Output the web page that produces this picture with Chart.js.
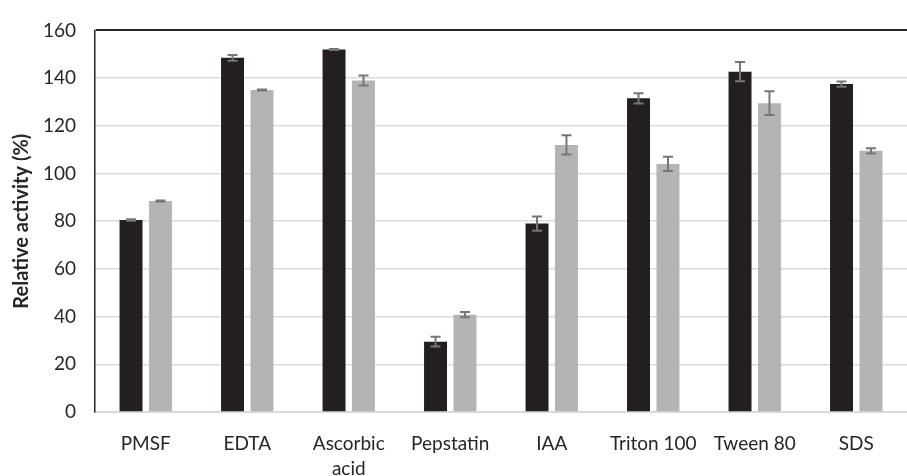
<!DOCTYPE html>
<html>
<head>
<meta charset="utf-8">
<script src="https://cdn.jsdelivr.net/npm/chart.js@4.4.1/dist/chart.umd.min.js"></script>
<style>
  html, body { margin: 0; padding: 0; background: #fff; }
</style>
</head>
<body>
<canvas id="barChart" width="907" height="476"></canvas>
<script>
// data
const categories = ['PMSF', 'EDTA', ['Ascorbic', 'acid'], 'Pepstatin', 'IAA', 'Triton 100', 'Tween 80', 'SDS'];
const blackValues = [80.5, 148.5, 152, 29.5, 79, 131.5, 142.7, 137.5];
const blackErrors = [0.3, 1.2, 0.2, 2, 3, 2.2, 4, 1.1];
const grayValues = [88.5, 135, 139, 40.8, 112, 104, 129.5, 109.5];
const grayErrors = [0.2, 0.2, 2.1, 1.1, 4, 3, 5, 1.1];
const yTicks = [0, 20, 40, 60, 80, 100, 120, 140, 160];

const errorBars = {
    id: 'errorBars',
    afterDatasetsDraw(chart) {
        const ctx = chart.ctx;
        const yScale = chart.scales.y;
        ctx.save();
        ctx.strokeStyle = '#767676';
        ctx.lineWidth = 2;
        chart.data.datasets.forEach((ds, i) => {
            const meta = chart.getDatasetMeta(i);
            meta.data.forEach((bar, j) => {
                const v = ds.data[j];
                const e = ds.errors[j];
                const top = yScale.getPixelForValue(v + e);
                const bot = yScale.getPixelForValue(v - e);
                ctx.beginPath();
                ctx.moveTo(bar.x, top);
                ctx.lineTo(bar.x, bot);
                ctx.moveTo(bar.x - 5, top);
                ctx.lineTo(bar.x + 5, top);
                ctx.moveTo(bar.x - 5, bot);
                ctx.lineTo(bar.x + 5, bot);
                ctx.stroke();
            });
        });
        ctx.restore();
    }
};

const ctx = document.getElementById('barChart').getContext('2d');
const chart = new Chart(ctx, {
    type: 'bar',
    data: {
        labels: categories,
        datasets: [
            {
                label: 'Series 1',
                data: blackValues,
                errors: blackErrors,
                backgroundColor: '#231f20',
                borderWidth: 0
            },
            {
                label: 'Series 2',
                data: grayValues,
                errors: grayErrors,
                backgroundColor: '#b3b4b6',
                borderWidth: 0
            }
        ]
    },
    options: {
        responsive: false,
        animation: false,
        barPercentage: 0.78,
        categoryPercentage: 0.58,
        layout: {
            padding: { top: 19, right: 0, bottom: 0, left: 0 }
        },
        scales: {
            x: {
                grid: { display: false },
                border: { color: '#d9d9d9', width: 2 },
                ticks: {
                    color: '#262626',
                    font: { family: 'Lato', size: 19, lineHeight: 1.3 },
                    maxRotation: 0,
                    autoSkip: false,
                    padding: 12
                },
                afterFit: function (scale) {
                    scale.height = 64;
                }
            },
            y: {
                min: 0,
                max: 160,
                afterBuildTicks: function (scale) {
                    scale.ticks = yTicks.map(v => ({ value: v }));
                },
                grid: {
                    drawTicks: false,
                    color: c => c.tick && c.tick.value === 160 ? '#262626' : '#dcdcdc',
                    lineWidth: c => c.tick && c.tick.value === 160 ? 2 : 1.5
                },
                border: { color: '#262626', width: 1.5 },
                ticks: {
                    color: '#262626',
                    font: { family: 'Lato', size: 19 },
                    padding: 19
                },
                title: {
                    display: true,
                    text: 'Relative activity (%)',
                    color: '#262626',
                    font: { family: 'Lato', size: 20, weight: 'bold' },
                    padding: { top: 10, bottom: 0 }
                },
                afterFit: function (scale) {
                    scale.width = 95;
                }
            }
        },
        plugins: {
            legend: { display: false },
            tooltip: { enabled: false }
        }
    },
    plugins: [errorBars]
});
</script>
</body>
</html>
